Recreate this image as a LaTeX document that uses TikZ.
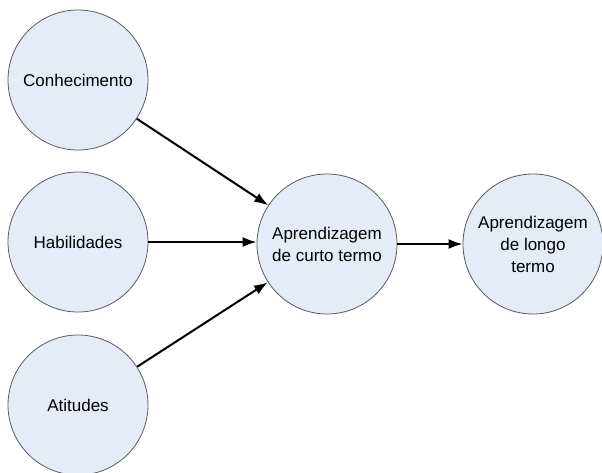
\documentclass[tikz,border=0pt]{standalone}
\usepackage{fontspec}
\setmainfont{Liberation Sans}
\usetikzlibrary{arrows.meta}
\definecolor{bubblefill}{RGB}{230,235,248}
\definecolor{bubbleline}{RGB}{90,90,90}
\tikzset{
  bubble/.style={circle, draw=bubbleline, line width=0.8pt, fill=bubblefill,
    minimum size=140pt, inner sep=0pt, align=center,
    font=\fontsize{17}{22}\selectfont},
  link/.style={line width=2pt, -{Latex[length=14pt,width=10pt]}}
}
\begin{document}
\begin{tikzpicture}[x=1pt,y=-1pt]
  \useasboundingbox (0,0) rectangle (602,472);
  \clip (0,0) rectangle (602,472);
  \node[bubble] (know)  at (78,80)   {Conhecimento};
  \node[bubble] (skill) at (78,242)  {Habilidades};
  \node[bubble] (att)   at (78,405)  {Atitudes};
  \node[bubble] (short) at (327,244) {Aprendizagem\\de curto termo};
  \node[bubble] (long)  at (533,244) {Aprendizagem\\de longo\\termo};
  \draw[link] (know)  -- (short);
  \draw[link] (skill.east) -- (short.west |- skill.east);
  \draw[link] (att)   -- (short);
  \draw[link] (short) -- (long);
\end{tikzpicture}
\end{document}
